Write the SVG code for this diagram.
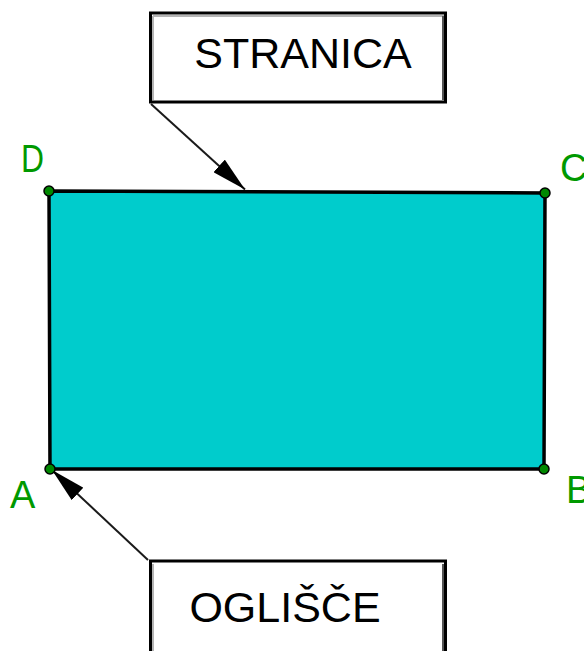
<svg xmlns="http://www.w3.org/2000/svg" width="584" height="651" viewBox="0 0 584 651">
  <style>
    .box { fill: #ffffff; stroke: #000000; stroke-width: 3; }
    .hl { stroke: #b4b4b4; stroke-width: 2; fill: none; }
    .sh { stroke: #555555; stroke-width: 2; fill: none; }
    .boxtxt { font-family: "Liberation Sans", Arial, sans-serif; font-size: 43px; fill: #000000; text-anchor: middle; }
    .lbl { font-family: "Liberation Sans", Arial, sans-serif; font-size: 38px; fill: #009900; }
    .pt { fill: #008800; stroke: #000000; stroke-width: 1.5; }
    .conn { stroke: #1a1a1a; stroke-width: 2; fill: none; marker-end: url(#arrow); }
  </style>
  <defs>
    <marker id="arrow" viewBox="0 0 35 17" refX="35" refY="8.5" markerWidth="35" markerHeight="17" markerUnits="userSpaceOnUse" orient="auto">
      <path d="M0,0 L35,8.5 L0,17 Z" fill="#000000"/>
    </marker>
  </defs>
  <rect width="584" height="651" fill="#ffffff"/>

  <g id="rectangle">
    <polygon points="49,191 545,193 544,469 50,469" fill="#00cccc" stroke="#000000" stroke-width="3.5"/>
  </g>

  <g id="connectors">
    <line class="conn" x1="151" y1="104" x2="245" y2="189.5"/>
    <line class="conn" x1="148" y1="560" x2="52" y2="470"/>
  </g>

  <g id="stranica">
    <rect class="box" x="150.5" y="13" width="295" height="89"/>
    <line class="hl" x1="153" y1="16" x2="444" y2="16"/>
    <line class="hl" x1="153" y1="16" x2="153" y2="100"/>
    <line class="sh" x1="443" y1="16" x2="443" y2="100"/>
    <text class="boxtxt" x="303" y="68">STRANICA</text>
  </g>

  <g id="oglisce">
    <rect class="box" x="150.5" y="561" width="295" height="100"/>
    <line class="hl" x1="153" y1="564" x2="153" y2="651"/>
    <line class="sh" x1="443" y1="564" x2="443" y2="651"/>
    <text class="boxtxt" x="285" y="622">OGLIŠČE</text>
  </g>

  <g id="point-D">
    <circle class="pt" cx="49" cy="191" r="5"/>
    <text class="lbl" x="21" y="172" textLength="23" lengthAdjust="spacingAndGlyphs">D</text>
  </g>
  <g id="point-C">
    <circle class="pt" cx="545" cy="193" r="5"/>
    <text class="lbl" x="560" y="181">C</text>
  </g>
  <g id="point-B">
    <circle class="pt" cx="544" cy="469" r="5"/>
    <text class="lbl" x="566" y="503">B</text>
  </g>
  <g id="point-A">
    <circle class="pt" cx="50" cy="469" r="5"/>
    <text class="lbl" x="10" y="508">A</text>
  </g>
</svg>
